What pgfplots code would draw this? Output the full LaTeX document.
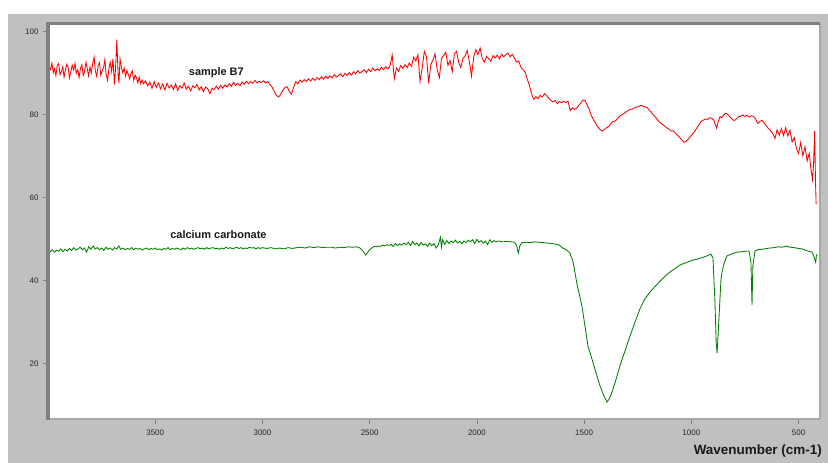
\documentclass[border=0pt]{standalone}
\usepackage{fontspec}
\setmainfont{Liberation Sans}
\usepackage{pgfplots}
\pgfplotsset{compat=1.18}
\definecolor{bggray}{HTML}{C0C0C0}
\definecolor{framedark}{HTML}{808080}
\definecolor{framelight}{HTML}{A8A8A8}
\definecolor{irred}{HTML}{FF0000}
\definecolor{irgreen}{HTML}{008000}
\begin{document}
\begin{tikzpicture}
\fill[white] (-48bp,-44bp) rectangle (780bp,419bp);
\fill[bggray] (-40bp,-44bp) rectangle (780bp,405bp);
\begin{axis}[
  at={(0,0)}, anchor=south west,
  width=772bp, height=395bp, scale only axis,
  x dir=reverse,
  xmin=400, xmax=4000, ymin=6.6, ymax=101.8,
  axis background/.style={fill=white},
  axis line style={draw=none},
  xtick={500,1000,1500,2000,2500,3000,3500},
  ytick={20,40,60,80,100},
  xtick pos=bottom, ytick pos=left,
  tick align=outside,
  major tick length=5bp,
  tick style={draw=gray, line width=0.6bp},
  /pgf/number format/assume math mode=true,
  /pgf/number format/set thousands separator={},
  xticklabel style={font=\fontsize{8}{9}\selectfont, text=black!85, yshift=-2bp},
  yticklabel style={font=\fontsize{8}{9}\selectfont, text=black!85, xshift=-1bp},
  clip=true,
]
\addplot[irred, line width=0.85bp] table {
4000 89.5
3994 91.2
3988 90.8
3982 92.4
3975 90.1
3970 91.0
3963 89.4
3957 91.8
3950 92.3
3944 89.6
3938 90.2
3931 91.5
3925 89.0
3919 90.6
3912 92.1
3906 91.4
3900 88.8
3893 90.4
3887 91.9
3880 90.7
3874 92.3
3868 89.9
3861 90.8
3855 88.9
3849 91.0
3842 92.0
3836 89.4
3830 90.2
3823 92.6
3817 91.1
3811 89.3
3804 91.4
3798 90.0
3792 92.2
3785 93.8
3779 90.4
3773 89.2
3766 91.8
3760 92.5
3754 89.5
3747 90.6
3741 91.2
3735 93.2
3729 89.8
3722 88.2
3716 91.0
3710 92.6
3703 90.3
3697 93.4
3690 87.2
3685 91.0
3679 98.0
3673 89.5
3669 87.6
3664 93.4
3657 91.2
3651 90.0
3645 91.2
3638 89.2
3632 90.6
3626 89.7
3619 88.6
3613 89.9
3607 90.5
3600 88.2
3594 89.5
3588 88.9
3581 87.6
3575 89.0
3568 87.4
3562 88.3
3555 87.4
3545 88.1
3535 86.9
3525 87.8
3515 86.3
3505 87.9
3495 86.5
3485 87.6
3475 86.2
3465 87.3
3455 85.9
3445 87.5
3435 86.4
3425 87.1
3415 86.0
3405 87.4
3395 85.8
3385 86.9
3375 86.3
3365 87.6
3355 86.1
3345 86.8
3335 85.7
3325 86.9
3315 86.4
3305 87.2
3295 85.9
3285 86.7
3275 85.5
3265 86.6
3255 86.2
3245 85.0
3235 86.3
3225 86.0
3215 86.8
3205 86.1
3195 87.0
3185 86.3
3175 87.1
3165 86.6
3155 87.4
3145 86.8
3135 87.7
3125 87.0
3115 87.5
3105 86.9
3095 87.8
3085 87.3
3075 88.0
3065 87.4
3055 87.9
3045 87.5
3035 88.2
3025 87.6
3015 88.0
3005 87.7
2995 88.1
2985 87.6
2975 87.9
2965 87.2
2955 86.6
2945 85.6
2935 84.6
2925 84.2
2915 84.8
2905 85.8
2895 86.5
2885 86.7
2875 85.6
2865 84.9
2855 86.5
2845 87.9
2835 87.4
2825 88.3
2815 87.8
2805 88.4
2795 87.9
2785 88.6
2775 88.1
2765 88.7
2755 88.2
2745 88.9
2735 88.4
2725 89.1
2715 88.5
2705 89.2
2695 88.7
2685 89.3
2675 88.8
2665 89.6
2655 89.0
2645 89.4
2635 89.8
2625 89.1
2615 89.9
2605 89.4
2595 90.1
2585 89.5
2575 90.3
2565 89.8
2555 90.6
2545 89.9
2535 90.4
2525 90.8
2515 90.1
2505 90.9
2495 90.3
2485 91.2
2475 90.5
2465 91.0
2455 90.6
2445 91.4
2435 90.8
2425 91.5
2415 91.0
2405 91.7
2395 94.3
2385 88.6
2375 91.2
2365 90.4
2355 91.8
2345 91.1
2335 92.0
2325 91.3
2315 92.4
2305 91.6
2295 93.8
2285 92.9
2275 94.4
2265 88.0
2255 91.2
2245 95.2
2235 93.9
2225 87.5
2215 92.0
2205 93.1
2195 94.6
2185 90.8
2175 88.9
2165 93.5
2155 94.2
2145 95.0
2135 91.8
2125 93.0
2115 90.3
2105 94.6
2095 95.2
2085 92.6
2075 91.3
2065 93.5
2055 94.1
2045 95.4
2035 92.7
2025 89.2
2015 93.8
2005 95.6
1995 94.4
1985 96.0
1975 93.5
1965 92.6
1955 94.0
1945 93.4
1935 92.8
1925 94.2
1915 93.6
1905 94.3
1895 93.4
1885 94.5
1875 93.9
1865 94.4
1855 94.8
1845 93.9
1835 94.5
1825 93.6
1815 92.6
1805 92.9
1795 91.4
1785 90.8
1775 90.2
1765 88.5
1755 87.0
1745 85.0
1735 83.6
1725 84.3
1715 83.8
1705 84.6
1695 84.2
1685 85.0
1675 84.6
1665 83.9
1655 83.4
1645 83.0
1635 83.4
1625 82.6
1615 83.1
1605 82.8
1595 83.2
1585 82.9
1575 83.2
1565 80.9
1555 81.6
1545 81.2
1535 81.5
1525 82.2
1515 82.8
1505 83.5
1495 83.3
1485 82.2
1475 81.0
1465 79.6
1455 78.6
1445 77.8
1435 76.9
1425 76.3
1415 76.0
1405 76.4
1395 76.8
1385 77.1
1375 77.8
1365 78.3
1355 78.4
1345 78.9
1335 79.6
1325 79.9
1315 80.2
1305 80.6
1295 80.9
1285 81.2
1275 81.3
1265 81.6
1255 81.8
1245 81.9
1235 82.2
1225 82.0
1215 81.8
1205 81.6
1195 81.0
1185 80.4
1175 79.8
1165 79.2
1155 78.5
1145 78.0
1135 77.6
1125 77.2
1115 76.8
1105 76.5
1095 76.0
1085 76.1
1075 75.5
1065 75.0
1055 74.5
1045 73.9
1035 73.3
1025 73.5
1015 74.0
1005 74.6
995 75.3
985 75.9
975 76.7
965 77.5
955 78.3
945 78.6
935 78.9
925 78.8
915 79.2
905 79.1
895 78.6
882 76.7
875 78.2
866 79.5
858 79.2
850 79.8
840 80.3
830 80.0
820 79.4
810 78.9
800 78.5
790 78.9
780 79.4
770 79.6
760 79.9
750 79.5
740 79.8
730 79.3
720 79.7
710 79.5
700 78.9
690 77.8
680 78.3
670 78.6
660 77.9
650 77.2
640 76.6
630 76.1
620 75.4
610 74.2
600 76.3
590 75.0
580 76.6
570 74.9
560 76.8
550 74.8
540 76.2
530 73.4
520 74.4
510 71.9
500 70.6
490 73.2
480 70.0
470 72.2
460 68.8
450 70.6
442 66.8
435 64.3
430 68.0
425 76.0
421 64.0
418 58.4
};
\addplot[irgreen, line width=0.85bp] table {
4000 47.2
3990 46.9
3980 47.4
3970 46.8
3960 47.3
3950 47.0
3940 47.6
3930 46.9
3920 47.5
3910 47.1
3900 47.7
3890 47.2
3880 47.9
3870 47.3
3860 47.6
3850 48.0
3840 47.4
3830 47.8
3820 46.8
3810 48.1
3800 47.5
3790 48.3
3780 47.6
3770 47.9
3760 47.4
3750 47.8
3740 47.2
3730 48.0
3720 47.5
3710 47.8
3700 47.3
3690 47.9
3680 47.6
3670 48.3
3660 47.5
3650 47.8
3640 47.4
3630 47.7
3620 47.5
3610 47.9
3600 47.4
3590 47.8
3580 47.5
3570 47.7
3560 47.3
3550 47.6
3540 47.8
3530 47.4
3520 47.7
3510 47.5
3500 47.8
3490 47.4
3480 47.6
3470 47.3
3460 47.7
3450 47.5
3440 47.9
3430 47.4
3420 47.7
3410 47.5
3400 47.8
3390 47.6
3380 47.4
3370 47.8
3360 47.5
3350 47.9
3340 47.6
3330 47.8
3320 47.5
3310 47.7
3300 47.9
3290 47.6
3280 47.8
3270 47.5
3260 47.9
3250 47.6
3240 47.8
3230 47.9
3220 47.6
3210 47.8
3200 47.5
3190 47.8
3180 47.6
3170 48.0
3160 47.7
3150 47.9
3140 47.6
3130 47.8
3120 48.0
3110 47.7
3100 47.9
3090 47.6
3080 47.8
3070 47.7
3060 48.0
3050 47.8
3040 47.9
3030 47.6
3020 47.9
3010 47.7
3000 47.9
2980 47.7
2960 47.9
2940 47.6
2920 47.8
2900 47.6
2880 47.9
2860 47.7
2840 47.9
2820 48.0
2800 47.8
2780 48.1
2760 47.9
2740 48.1
2720 47.9
2700 48.0
2680 48.0
2660 47.8
2640 48.0
2620 47.9
2600 48.1
2580 48.0
2560 48.1
2545 47.8
2535 47.3
2525 46.6
2518 46.1
2510 46.7
2500 47.4
2490 47.8
2480 48.2
2470 48.1
2460 48.3
2450 48.2
2440 48.5
2430 48.3
2420 48.6
2410 48.4
2400 48.7
2390 48.2
2380 48.9
2370 48.4
2360 48.8
2350 48.5
2340 49.0
2330 48.6
2320 49.2
2310 48.4
2300 49.4
2290 48.6
2280 49.0
2270 48.3
2260 49.1
2250 48.5
2240 48.8
2230 48.2
2220 49.0
2210 48.4
2200 48.9
2190 47.8
2180 48.6
2170 50.4
2165 48.0
2160 49.8
2150 48.7
2140 49.6
2130 48.9
2120 49.5
2110 49.1
2100 49.7
2090 49.0
2080 49.4
2070 48.8
2060 49.5
2050 49.1
2040 49.7
2030 49.3
2020 49.8
2010 48.9
2000 49.9
1990 49.2
1980 49.6
1970 49.0
1960 49.5
1950 48.6
1940 49.8
1930 49.2
1920 49.6
1910 49.3
1900 49.5
1880 49.3
1860 49.4
1840 49.3
1825 49.2
1815 48.5
1810 47.2
1806 46.6
1800 48.3
1790 49.1
1770 49.2
1750 49.1
1730 49.3
1712 49.2
1690 49.1
1670 49.0
1650 48.9
1630 48.7
1615 48.5
1600 47.8
1580 47.3
1566 46.6
1552 44.6
1533 39.1
1510 33.8
1496 29.0
1482 24.2
1459 20.3
1443 17.5
1426 14.6
1408 12.2
1393 10.7
1383 11.4
1370 13.1
1353 15.8
1333 19.4
1308 23.2
1286 26.6
1263 29.9
1240 33.1
1218 35.4
1193 37.2
1168 38.6
1146 39.8
1123 41.0
1100 42.0
1078 42.8
1053 43.7
1040 44.0
1013 44.5
993 44.9
975 45.1
943 45.6
908 46.3
899 45.4
890 35.0
884 25.0
880 22.5
875 27.0
869 33.0
862 40.0
857 42.0
848 44.0
834 45.9
810 46.4
790 46.8
765 46.9
740 47.1
731 47.1
722 44.4
717 34.1
713 43.5
703 47.1
690 47.4
670 47.5
650 47.7
635 47.8
615 47.9
595 48.1
575 48.0
558 48.3
540 48.0
520 47.9
500 47.7
483 47.6
465 47.2
450 47.0
437 46.8
428 45.8
420 44.4
417 45.9
414 46.3
};
\node[font=\fontsize{11}{13}\selectfont\bfseries, text=black!90] at (axis cs:3215,90.0) {sample B7};
\node[font=\fontsize{11}{13}\selectfont\bfseries, text=black!90] at (axis cs:3205,50.95) {calcium carbonate};
\end{axis}
\draw[framelight, line width=1.5bp] (0,0) -- (772bp,0);
\draw[framelight, line width=2bp] (772bp,0) -- (772bp,395bp);
\draw[framedark, line width=3bp] (0,-0.75bp) -- (0,395bp) -- (772bp,395bp);
\node[anchor=east, font=\fontsize{13.5}{16}\selectfont\bfseries, text=black!90, inner sep=0pt] at (774bp,-32bp) {Wavenumber (cm-1)};
\end{tikzpicture}
\end{document}
